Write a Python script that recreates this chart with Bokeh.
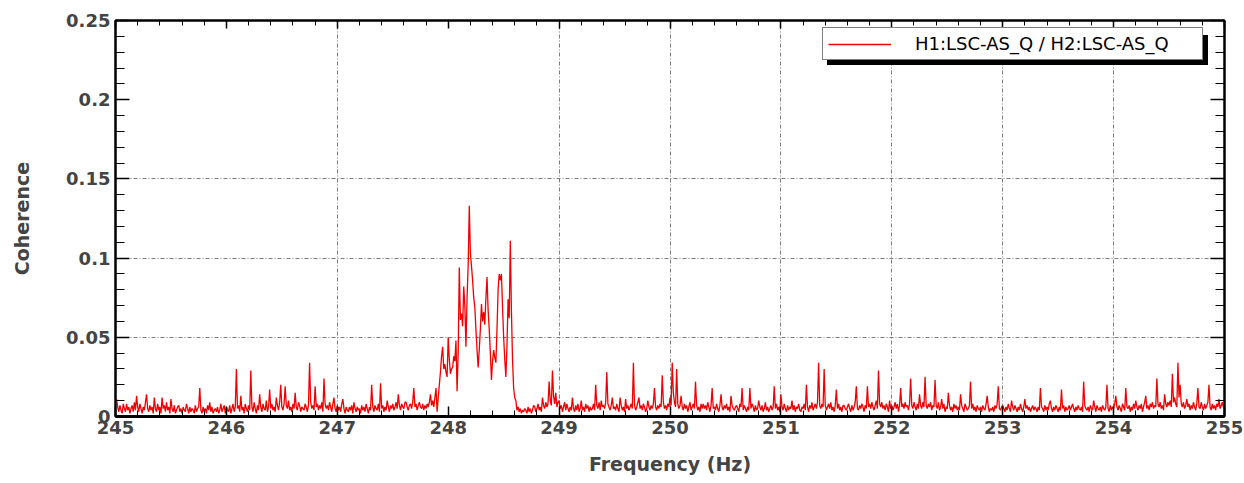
import numpy as np
from bokeh.plotting import figure
from bokeh.models import (Range1d, FixedTicker, LinearAxis, Legend, LegendItem,
                          CustomJSTickFormatter)
from bokeh.embed import file_html
from bokeh.resources import INLINE

# ---------------- data ----------------
freq_start = 245.0      # Hz
freq_step = 0.01        # Hz per bin
# coherence in units of 1e-3, one row per 0.1 Hz (10 bins)
coherence_milli = [
    10, 11, 6, 3, 7, 4, 2, 8, 5, 3,        # 245.0
    8, 4, 6, 2, 5, 7, 3, 9, 4, 13,         # 245.1
    6, 3, 8, 5, 2, 6, 4, 9, 14, 5,         # 245.2
    3, 7, 4, 6, 2, 12, 5, 3, 8, 4,         # 245.3
    6, 2, 12, 5, 7, 3, 9, 4, 6, 2,         # 245.4
    11, 5, 3, 7, 2, 4, 6, 7, 3, 5,         # 245.5
    2, 6, 4, 3, 8, 5, 2, 6, 3, 5,          # 245.6
    4, 2, 7, 3, 5, 6, 18, 4, 2, 6,         # 245.7
    3, 5, 2, 7, 4, 9, 3, 6, 2, 4,          # 245.8
    5, 3, 6, 2, 4, 8, 3, 5, 7, 2,          # 245.9
    6, 4, 3, 7, 2, 5, 8, 3, 6, 30,         # 246.0
    5, 7, 3, 13, 4, 6, 2, 8, 5, 3,         # 246.1
    7, 4, 29, 6, 3, 9, 5, 2, 7, 4,         # 246.2
    14, 6, 3, 8, 5, 4, 10, 3, 6, 17,       # 246.3
    5, 8, 4, 6, 3, 12, 7, 4, 9, 20,        # 246.4
    6, 4, 8, 19, 7, 5, 10, 4, 6, 3,        # 246.5
    8, 5, 15, 6, 4, 9, 7, 3, 6, 5,         # 246.6
    4, 8, 6, 3, 7, 34, 9, 5, 7, 4,         # 246.7
    19, 6, 8, 4, 7, 5, 9, 3, 24, 8,        # 246.8
    5, 7, 4, 9, 6, 3, 8, 12, 5, 3,         # 246.9
    7, 4, 6, 3, 8, 11, 5, 2, 6, 4,         # 247.0
    3, 6, 4, 7, 2, 9, 5, 3, 6, 4,          # 247.1
    5, 2, 7, 4, 6, 3, 8, 5, 2, 6,          # 247.2
    4, 20, 6, 3, 7, 5, 4, 8, 3, 21,        # 247.3
    5, 7, 3, 6, 4, 10, 6, 3, 7, 5,         # 247.4
    8, 4, 6, 9, 5, 14, 7, 4, 8, 6,         # 247.5
    5, 9, 9, 6, 4, 7, 8, 5, 9, 18,         # 247.6
    6, 8, 4, 7, 9, 6, 5, 8, 4, 7,          # 247.7
    5, 8, 6, 9, 14, 7, 10, 6, 12, 18,      # 247.8
    3, 12, 20, 28, 38, 44, 30, 33, 28, 25, # 247.9
    50, 36, 27, 30, 31, 38, 35, 48, 16, 40,        # 248.0
    94, 61, 65, 57, 82, 70, 44, 75, 95, 133,       # 248.1
    103, 95, 86, 75, 69, 55, 42, 31, 42, 55,       # 248.2
    71, 60, 66, 58, 75, 88, 67, 55, 40, 23,        # 248.3
    35, 42, 37, 34, 55, 80, 90, 86, 90, 69,        # 248.4
    50, 36, 25, 45, 74, 62, 111, 67, 36, 18,       # 248.5
    12, 10, 4, 6, 3, 5, 2, 4, 3, 5,        # 248.6
    4, 2, 6, 3, 5, 2, 4, 7, 6, 3,          # 248.7
    5, 8, 4, 6, 3, 12, 7, 5, 9, 6,         # 248.8
    8, 22, 10, 7, 29, 13, 8, 15, 6, 9,     # 248.9
    10, 5, 7, 3, 6, 9, 4, 8, 5, 3,         # 249.0
    6, 4, 12, 5, 3, 7, 4, 8, 3, 5,         # 249.1
    10, 4, 6, 3, 8, 5, 7, 3, 6, 4,         # 249.2
    5, 8, 4, 20, 7, 5, 9, 4, 10, 6,        # 249.3
    7, 5, 9, 28, 8, 6, 4, 7, 12, 5,        # 249.4
    6, 4, 8, 5, 3, 12, 7, 4, 6, 3,         # 249.5
    11, 5, 7, 4, 6, 8, 5, 34, 7, 4,        # 249.6
    6, 9, 12, 5, 7, 4, 8, 6, 3, 5,         # 249.7
    10, 6, 4, 7, 5, 8, 18, 6, 4, 7,        # 249.8
    5, 8, 6, 26, 9, 5, 7, 4, 8, 6,         # 249.9
    12, 7, 34, 15, 9, 6, 30, 8, 5, 7,      # 250.0
    13, 6, 4, 8, 5, 7, 3, 6, 9, 4,         # 250.1
    6, 8, 5, 22, 7, 4, 6, 3, 8, 5,         # 250.2
    8, 5, 7, 4, 9, 6, 3, 7, 18, 5,         # 250.3
    6, 4, 8, 5, 3, 7, 14, 6, 4, 7,         # 250.4
    5, 8, 4, 6, 3, 13, 7, 5, 4, 6,         # 250.5
    7, 5, 3, 8, 6, 18, 4, 7, 5, 3,         # 250.6
    6, 4, 18, 5, 8, 6, 3, 7, 4, 5,         # 250.7
    10, 6, 4, 7, 3, 5, 9, 4, 6, 3,         # 250.8
    5, 7, 4, 6, 19, 5, 8, 4, 6, 3,         # 250.9
    14, 6, 4, 8, 5, 3, 7, 4, 6, 5,         # 251.0
    10, 4, 7, 3, 6, 5, 8, 4, 3, 6,         # 251.1
    5, 8, 4, 20, 6, 3, 7, 5, 9, 4,         # 251.2
    6, 8, 5, 9, 34, 7, 5, 8, 6, 30,        # 251.3
    7, 4, 6, 8, 5, 9, 4, 6, 3, 7,          # 251.4
    17, 5, 8, 4, 6, 3, 7, 7, 5, 4,         # 251.5
    6, 8, 5, 3, 7, 4, 6, 9, 19, 5,         # 251.6
    4, 7, 5, 8, 6, 3, 7, 5, 19, 6,         # 251.7
    8, 5, 9, 6, 4, 7, 10, 5, 29, 8,        # 251.8
    6, 9, 5, 7, 4, 8, 6, 3, 10, 5,         # 251.9
    7, 4, 6, 9, 5, 8, 3, 7, 18, 6,         # 252.0
    8, 5, 9, 6, 7, 4, 8, 24, 7, 5,         # 252.1
    9, 6, 4, 8, 5, 14, 7, 5, 9, 6,         # 252.2
    25, 7, 5, 8, 6, 9, 4, 7, 6, 23,        # 252.3
    7, 5, 9, 4, 6, 11, 5, 8, 3, 6,         # 252.4
    5, 15, 7, 4, 6, 3, 8, 5, 7, 4,         # 252.5
    6, 4, 14, 7, 5, 3, 8, 6, 4, 5,         # 252.6
    7, 22, 5, 8, 4, 6, 3, 7, 5, 4,         # 252.7
    6, 3, 7, 5, 4, 8, 13, 6, 3, 5,         # 252.8
    4, 6, 3, 7, 5, 8, 19, 5, 4, 6,         # 252.9
    7, 5, 3, 6, 4, 8, 5, 3, 10, 6,         # 253.0
    4, 7, 5, 3, 6, 4, 8, 5, 3, 6,          # 253.1
    11, 5, 7, 4, 6, 3, 5, 7, 4, 6,         # 253.2
    5, 3, 6, 4, 18, 6, 5, 3, 7, 4,         # 253.3
    6, 4, 8, 10, 5, 3, 6, 4, 7, 5,         # 253.4
    3, 6, 4, 17, 5, 7, 3, 6, 4, 5,         # 253.5
    7, 4, 6, 8, 5, 3, 6, 4, 7, 5,          # 253.6
    4, 6, 3, 22, 7, 5, 4, 6, 3, 7,         # 253.7
    5, 4, 10, 6, 3, 7, 5, 4, 6, 3,         # 253.8
    7, 5, 4, 6, 20, 5, 3, 7, 4, 6,         # 253.9
    5, 8, 13, 6, 4, 7, 5, 3, 8, 6,         # 254.0
    4, 18, 6, 5, 7, 3, 6, 4, 8, 5,         # 254.1
    10, 6, 4, 7, 5, 8, 3, 6, 9, 13,        # 254.2
    5, 7, 4, 8, 6, 9, 5, 7, 6, 24,         # 254.3
    8, 6, 9, 5, 7, 4, 14, 8, 6, 9,         # 254.4
    7, 10, 6, 27, 9, 12, 8, 6, 34, 12,     # 254.5
    20, 8, 6, 9, 5, 7, 11, 6, 8, 4,        # 254.6
    7, 5, 9, 6, 4, 8, 18, 6, 5, 9,         # 254.7
    6, 4, 8, 5, 7, 9, 20, 6, 4, 8,         # 254.8
    5, 7, 4, 8, 6, 11, 5, 7, 9, 6,         # 254.9
    8,                                     # 255.0
]
freq = [round(freq_start + i * freq_step, 2) for i in range(len(coherence_milli))]
coherence = [v / 1000.0 for v in coherence_milli]

x_ticks = [245, 246, 247, 248, 249, 250, 251, 252, 253, 254, 255]
y_ticks = [0, 0.05, 0.1, 0.15, 0.2, 0.25]
y_tick_labels = ["0", "0.05", "0.1", "0.15", "0.2", "0.25"]
x_grid_lines = [247, 249, 250, 251, 252, 253, 254]
y_grid_lines = [0.05, 0.1, 0.15]
legend_label = "H1:LSC-AS_Q / H2:LSC-AS_Q"
x_title = "Frequency (Hz)"
y_title = "Coherence"

# ---------------- figure ----------------
x_minor = [round(245 + 0.2 * i, 2) for i in range(51)]
y_minor = [round(0.01 * i, 2) for i in range(26)]

p = figure(width=1244, height=483, output_backend="svg", toolbar_location=None,
           x_range=Range1d(245, 255), y_range=Range1d(0, 0.25),
           min_border_left=115, min_border_right=20, min_border_top=20,
           min_border_bottom=67, background_fill_color="white",
           border_fill_color="white")
p.outline_line_color = "black"
p.outline_line_width = 2

line = p.line(freq, coherence, line_color="#f00000", line_width=1.3)

# grids
p.xgrid.ticker = FixedTicker(ticks=x_grid_lines)
p.ygrid.ticker = FixedTicker(ticks=y_grid_lines)
for g in (p.xgrid[0], p.ygrid[0]):
    g.grid_line_color = "#666666"
    g.grid_line_dash = "4 2 1 2"
    g.grid_line_width = 1
    g.grid_line_alpha = 0.85

FONT = "DejaVu Sans"

def style_ticks(ax, major_in, minor_in):
    ax.axis_line_color = "black"
    ax.axis_line_width = 2
    ax.major_tick_in = major_in
    ax.major_tick_out = 0
    ax.minor_tick_in = minor_in
    ax.minor_tick_out = 0
    ax.major_tick_line_color = "black"
    ax.minor_tick_line_color = "black"
    ax.major_tick_line_width = 1.5
    ax.minor_tick_line_width = 1

xb = p.below[0]
xb.ticker = FixedTicker(ticks=x_ticks, minor_ticks=x_minor)
style_ticks(xb, 10, 6)
xb.axis_line_width = 3
xb.major_label_text_font = FONT
xb.major_label_text_font_style = "bold"
xb.major_label_text_font_size = "18px"
xb.major_label_standoff = 4
xb.axis_label = x_title
xb.axis_label_text_font = FONT
xb.axis_label_text_font_style = "bold"
xb.axis_label_text_font_size = "19px"
xb.axis_label_standoff = 16

yl = p.left[0]
yl.ticker = FixedTicker(ticks=y_ticks, minor_ticks=y_minor)
yl.major_label_overrides = {t: s for t, s in zip(y_ticks, y_tick_labels)}
style_ticks(yl, 14, 9)
yl.major_label_text_font = FONT
yl.major_label_text_font_style = "bold"
yl.major_label_text_font_size = "18px"
yl.major_label_standoff = 5
yl.axis_label = y_title
yl.axis_label_text_font = FONT
yl.axis_label_text_font_style = "bold"
yl.axis_label_text_font_size = "19px"
yl.axis_label_standoff = 30

blank = CustomJSTickFormatter(code="return ''")
top_ax = LinearAxis(ticker=FixedTicker(ticks=x_ticks, minor_ticks=x_minor), formatter=blank,
                    major_label_standoff=0)
style_ticks(top_ax, 8, 5)
p.add_layout(top_ax, "above")
right_ax = LinearAxis(ticker=FixedTicker(ticks=y_ticks, minor_ticks=y_minor), formatter=blank,
                      major_label_standoff=0)
style_ticks(right_ax, 14, 9)
p.add_layout(right_ax, "right")

# legend with ROOT-style drop shadow (shadow box carries no text)
def make_legend(label, loc, bg):
    return Legend(items=[LegendItem(label=label, renderers=[line])],
                  location=loc, orientation="vertical",
                  background_fill_color=bg, background_fill_alpha=1.0,
                  border_line_color="black", border_line_width=1.5,
                  padding=5, margin=0, spacing=0,
                  glyph_width=63, glyph_height=18, label_height=18,
                  label_width=282, label_standoff=24, label_text_font=FONT,
                  label_text_font_size="18px", label_text_color="black")

shadow = make_legend(" ", (712, 351), "black")
main = make_legend(legend_label, (707, 356), "white")
p.add_layout(shadow, "center")
p.add_layout(main, "center")

open("out.html", "w").write(file_html(p, INLINE))
